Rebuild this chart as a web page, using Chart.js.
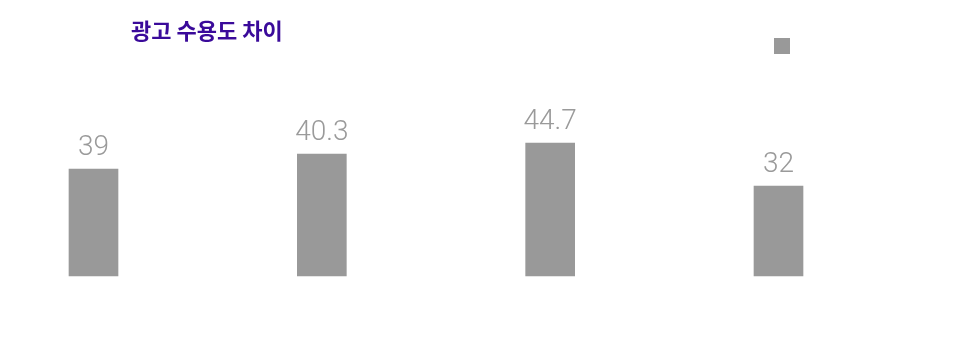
<!DOCTYPE html>
<html>
<head>
<meta charset="utf-8">
<script src="https://cdn.jsdelivr.net/npm/chart.js@4"></script>
<style>
  html, body { margin: 0; padding: 0; background: #ffffff; }
  #wrap { position: relative; width: 966px; height: 359px; }
</style>
</head>
<body>
<div id="wrap"><canvas id="c"></canvas></div>
<script>
// ---- data ----
const chartTitle = '광고 수용도 차이';
const categories = ['', '', '', ''];
const seriesLabel = '';
const barValues = [39.0, 44.5, 48.5, 32.8];          // bar heights as drawn
const valueLabels = ['39', '40.3', '44.7', '32'];     // printed value labels

const barColor = '#999999';
const titleColor = '#3a0a9a';

const overlayPlugin = {
  id: 'overlay',
  afterDatasetsDraw(chart) {
    const ctx = chart.ctx;
    const meta = chart.getDatasetMeta(0);
    ctx.save();
    ctx.font = '300 28px Roboto, "Liberation Sans", sans-serif';
    ctx.fillStyle = '#9a9a9a';
    ctx.textAlign = 'center';
    ctx.textBaseline = 'alphabetic';
    meta.data.forEach((bar, i) => {
      ctx.fillText(valueLabels[i], bar.x, bar.y - 14);
    });
    ctx.restore();
  },
  afterDraw(chart) {
    const ctx = chart.ctx;
    ctx.save();
    // title
    ctx.font = 'bold 22px "Noto Sans CJK KR", sans-serif';
    ctx.fillStyle = titleColor;
    ctx.textAlign = 'left';
    ctx.textBaseline = 'middle';
    ctx.fillText(chartTitle, 131, 31);
    // legend box
    const ds = chart.data.datasets[0];
    ctx.fillStyle = ds.backgroundColor;
    ctx.fillRect(774, 38, 16, 16);
    if (ds.label) {
      ctx.font = '14px "Noto Sans CJK KR", sans-serif';
      ctx.fillText(ds.label, 796, 46);
    }
    ctx.restore();
  }
};

new Chart(document.getElementById('c'), {
  type: 'bar',
  data: {
    labels: categories,
    datasets: [{
      label: seriesLabel,
      data: barValues,
      backgroundColor: barColor,
      borderWidth: 0,
      barThickness: 49,
      clip: false
    }]
  },
  options: {
    responsive: true,
    maintainAspectRatio: false,
    animation: false,
    layout: { padding: { top: 2, bottom: 83, left: 93.5, right: 187.5 } },
    plugins: {
      legend: { display: false },
      title: { display: false },
      tooltip: { enabled: false }
    },
    scales: {
      x: { display: false, offset: false, grid: { display: false } },
      y: { display: false, min: 0, max: 100, grid: { display: false } }
    }
  },
  plugins: [overlayPlugin]
});
</script>
</body>
</html>
